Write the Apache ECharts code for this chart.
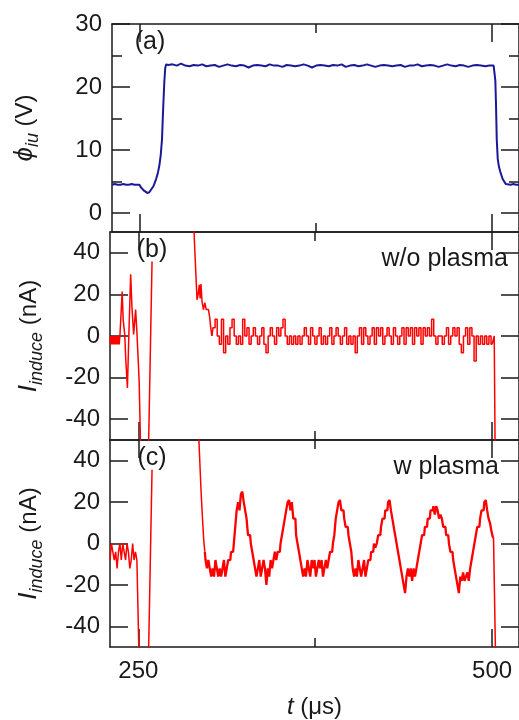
<!DOCTYPE html>
<html>
<head>
<meta charset="utf-8">
<script src="https://cdn.jsdelivr.net/npm/echarts@6/dist/echarts.min.js"></script>
<style>
html, body { margin: 0; padding: 0; background: #fff; }
#chart { width: 519px; height: 720px; }
</style>
</head>
<body>
<div id="chart"></div>
<script>
// time axis, microseconds
var tMin = 230, tMax = 519;
var tMajor = [250, 500];
var tMinor = [375];

// y tick values
var phiMajor = [0, 10, 20, 30];
var phiMinor = [5, 15, 25];
var curMajor = [-40, -20, 0, 20, 40];

// (a) phi_iu in V
var phiHead = [[230,4.5],[232,4.6],[234,4.5],[236,4.5],[238,4.6],[240,4.5],[242,4.5],[244,4.6],[246,4.5],[248,4.5],
  [249.5,4.5],[250.5,4.1],[251.5,3.8],[252.5,3.6],[253.5,3.3],[255,3.2],[256.5,3.3],[257.9,3.5],[259.5,4.3],
  [261.3,5.4],[262.5,6.3],[263.6,7.5],[264.6,9.2],[265.5,11.7],[266.4,17],[267.2,21],[267.8,23],[268.5,23.6]];
var phiFlatStart = 270, phiFlatStep = 3;
var phiFlat = [23.5,23.6,23.4,23.7,23.4,23.3,23.5,23.4,23.6,23.3,23.4,23.5,23.2,23.4,23.6,23.4,23.3,23.5,23.4,23.1,
  23.4,23.5,23.4,23.3,23.6,23.4,23.4,23.2,23.5,23.4,23.3,23.4,23.6,23.4,23.1,23.4,23.5,23.4,23.3,23.5,
  23.4,23.6,23.2,23.4,23.5,23.3,23.4,23.6,23.4,23.2,23.4,23.5,23.4,23.3,23.4,23.5,23.2,23.4,23.4,23.6,
  23.3,23.4,23.5,23.4,23.2,23.4,23.6,23.4,23.3,23.5,23.4,23.2,23.4,23.5,23.4,23.3,23.4,23.4];
var phiTail = [[502.2,21],[502.7,17],[503.2,11.7],[503.9,8.6],[504.8,7.3],[505.8,6.5],[507.4,5.4],[508.5,5.0],
  [509.7,4.6],[511,4.5],[513,4.5],[515,4.6],[517,4.5],[519,4.5]];

// (b) I_induce without plasma, nA
var woHead = [[230,0],[230.5,-4],[231,0],[231.5,-4],[232,0],[232.5,-4],[233,0],[233.5,-4],[234,0],[234.5,-4],
  [235,0],[235.5,-4],[236,0],[236.5,-4],[237,0],[238.6,21.4],[239.3,8],[240.4,0.8],[241.2,-12],[242.3,-25],
  [243.3,0],[244.6,29.7],[245.5,14],[246.7,0.7],[248.1,12.7],[249,2],[250.6,-21.7],[251.5,-50],[252.5,-70],
  [256,-70],[257.2,-55],[259.7,35.8],[260,null],
  [288.8,60],[290,40],[291.5,17.4],[292.3,20],[293.1,24.6],[293.7,18],[294.3,25],[295,16.8],[296,12.7],
  [297,16],[298,12.7],[299.6,12.7],[300.5,8.6],[301.2,3.8]];
var woFlatStart = 302, woFlatStep = 1.5;
var woFlat = [0,4,8,0,-4,8,-8,0,-4,4, 8,0,-4,0,-4,8,0,4,-4,0, 4,0,-4,0,4,-4,-8,0,4,0,
  -4,4,0,4,8,0,-4,0,-4,0, -4,0,-4,0,4,0,-4,4,0,-4, 0,4,-4,0,-4,0,4,-4,0,4,
  0,-4,0,4,-4,0,-4,0,-8,0, 4,-4,4,0,-4,0,4,-4,4,0, 4,-4,0,4,0,-4,4,0,-4,0,
  4,-4,4,0,4,-4,4,0,4,-4, 4,0,4,0,8,0,-4,0,0,-4, 0,4,-4,0,4,0,4,-4,-8,0,
  4,-4,4,0,-12,0,-4,0,-4,0, -4,0,-4];
var woTail = [[501.5,0],[502.3,-70]];

// (c) I_induce with plasma, nA
var wHead = [[230,-8],[231,0],[232,-4],[233,-8],[234,-4],[235,-12],[236,-4],[237,0],[238,-8],[239,0],
  [240,-4],[241,-8],[242,0],[243,-4],[244,-12],[245,-8],[246,0],[247,-8],[248,-4],[249,-8],[250,-8],
  [251,-70],[256,-70],[257.2,-55],[259.7,35.6],[260,null],
  [292.2,60],[294.3,26],[295.2,14],[296.2,2]];
var wWaveStart = 297, wWaveStep = 1;
var wWave = [-4,-8,-12,-8,-12,-16,-12,-16,-8,-12, -16,-12,-16,-12,-8,-16,-12,-8,-8,-4,
  -4,0,8,16,20,16,24,25,20,16, 12,4,4,0,-4,-8,-12,-16,-12,-8, -16,-12,-8,-12,-20,-12,-16,-8,-12,-8,
  -4,-8,-4,-4,0,4,8,12,16,20, 21,16,20,12,12,4,0,-4,-8,-12, -16,-12,-16,-8,-12,-16,-8,-12,-8,-16,
  -12,-8,-12,-8,-16,-12,-8,-12,-8,-4, -4,0,4,12,16,20,21,16,16,12, 8,8,4,0,-4,-12,-16,-12,-16,-8,
  -12,-16,-12,-8,-16,-12,-8,-8,-4,-4, 0,-2,0,4,4,8,12,12,16,16, 20,21,16,12,8,4,0,-4,-8,-12,
  -16,-20,-24,-16,-12,-16,-12,-18,-12,-16, -12,-8,-4,0,4,4,8,8,12,12, 16,16,18,14,18,16,12,14,12,8,
  8,4,4,0,-4,-4,-8,-12,-16,-20, -24,-16,-18,-14,-18,-16,-14,-18,-12,-8, -4,0,4,8,8,12,16,16,20,21,
  16,12,10,6,3];
var wTail = [[502.8,-70]];

var ink = '#1a1a1a';
var font = "'Liberation Sans', Arial, sans-serif";
var red = '#ff0000';
var blue = '#1a1a98';

function regular(start, step, vals) {
  return vals.map(function (v, i) { return [start + i * step, v]; });
}

var phiData = phiHead.concat(regular(phiFlatStart, phiFlatStep, phiFlat), phiTail);
var woMid = regular(woFlatStart, woFlatStep, woFlat);
var wMid = regular(wWaveStart, wWaveStep, wWave);

var panelTops = [24, 232, 440];
var panelH = 208;

var grids = panelTops.map(function (t) {
  return { left: 110, width: 415, top: t, height: panelH };
});

function tickAxis(g, pos, ticks, len, drawLine, extra) {
  var ax = {
    type: 'value', gridIndex: g, position: pos,
    axisLine: { show: drawLine, onZero: false, lineStyle: { color: ink, width: 1.5 } },
    axisTick: { show: true, inside: true, length: len, customValues: ticks, lineStyle: { color: ink, width: 1.5 } },
    axisLabel: { show: false },
    splitLine: { show: false }
  };
  for (var k in extra) ax[k] = extra[k];
  return ax;
}

var xAxes = [], yAxes = [];
var yRanges = [[-3, 30], [-50, 50], [-50, 50]];
var yMajors = [phiMajor, curMajor, curMajor];
var yMinors = [phiMinor, [], []];

function nameStyle() {
  return {
    fontSize: 24, color: ink, fontFamily: font, lineHeight: 34,
    rich: {
      i: { fontStyle: 'italic', fontSize: 26, fontFamily: font, color: ink, lineHeight: 34 },
      s: { fontStyle: 'italic', fontSize: 18, fontFamily: font, color: ink, verticalAlign: 'bottom', lineHeight: 16 }
    }
  };
}
var curName = { name: '{i|I}{s|induce} (nA)', nameLocation: 'middle', nameRotate: 90, nameGap: 64, nameTextStyle: nameStyle() };
var phiName = { name: '{i|ϕ}{s|iu} (V)', nameLocation: 'middle', nameRotate: 90, nameGap: 70, nameTextStyle: nameStyle() };

var mainX = [], mainY = [];
for (var g = 0; g < 3; g++) {
  var xr = { min: tMin, max: tMax };
  var bottomExtra = { min: tMin, max: tMax };
  if (g === 2) {
    bottomExtra.axisLabel = { show: true, customValues: tMajor, fontSize: 24, color: ink, fontFamily: font, margin: 12 };
    bottomExtra.name = '{i|t} (μs)';
    bottomExtra.nameLocation = 'middle';
    bottomExtra.nameGap = 48;
    bottomExtra.nameTextStyle = { fontSize: 24, color: ink, fontFamily: font,
      rich: { i: { fontStyle: 'italic', fontSize: 24, fontFamily: font, color: ink } } };
  }
  mainX.push(xAxes.length);
  xAxes.push(tickAxis(g, 'bottom', tMajor, 18, true, bottomExtra));
  xAxes.push(tickAxis(g, 'bottom', tMinor, 9, false, xr));
  xAxes.push(tickAxis(g, 'top', tMajor, 18, true, xr));
  xAxes.push(tickAxis(g, 'top', tMinor, 9, false, xr));

  var yr = { min: yRanges[g][0], max: yRanges[g][1] };
  var leftExtra = { min: yRanges[g][0], max: yRanges[g][1],
    axisLabel: { show: true, customValues: yMajors[g], fontSize: 24, color: ink, fontFamily: font, margin: 10 } };
  var nm = g === 0 ? phiName : curName;
  for (var k in nm) leftExtra[k] = nm[k];
  mainY.push(yAxes.length);
  yAxes.push(tickAxis(g, 'left', yMajors[g], 18, true, leftExtra));
  yAxes.push(tickAxis(g, 'right', yMajors[g], 18, true, yr));
  if (yMinors[g].length) {
    yAxes.push(tickAxis(g, 'left', yMinors[g], 10, false, yr));
    yAxes.push(tickAxis(g, 'right', yMinors[g], 10, false, yr));
  }
}

function lineSeries(g, data, color, width, step) {
  return {
    type: 'line', xAxisIndex: mainX[g], yAxisIndex: mainY[g], data: data,
    showSymbol: false, symbol: 'none', connectNulls: false, clip: true, step: step || false,
    lineStyle: { color: color, width: width }, itemStyle: { color: color }
  };
}

function label(txt, x, y, align) {
  return { type: 'text', x: x, y: y, z: 10,
    style: { text: txt, fontSize: 25, fontFamily: font, fill: ink, textAlign: align, textVerticalAlign: 'middle' } };
}

var option = {
  animation: false,
  backgroundColor: '#fff',
  grid: grids,
  xAxis: xAxes,
  yAxis: yAxes,
  series: [
    lineSeries(0, phiData, blue, 2),
    lineSeries(1, woHead.concat([woMid[0]]), red, 1.5),
    lineSeries(1, woMid, red, 1.5, 'middle'),
    lineSeries(1, [woMid[woMid.length - 1]].concat(woTail), red, 1.5),
    lineSeries(2, wHead.concat([wMid[0]]), red, 1.5),
    lineSeries(2, wMid, red, 2.3, 'middle'),
    lineSeries(2, [wMid[wMid.length - 1]].concat(wTail), red, 1.5)
  ],
  graphic: [
    label('(a)', 150, 42, 'center'),
    label('(b)', 152, 250, 'center'),
    label('(c)', 152, 458, 'center'),
    label('w/o plasma', 508, 259, 'right'),
    label('w plasma', 499, 467, 'right')
  ]
};

var myChart = echarts.init(document.getElementById('chart'));
myChart.setOption(option);
</script>
</body>
</html>
